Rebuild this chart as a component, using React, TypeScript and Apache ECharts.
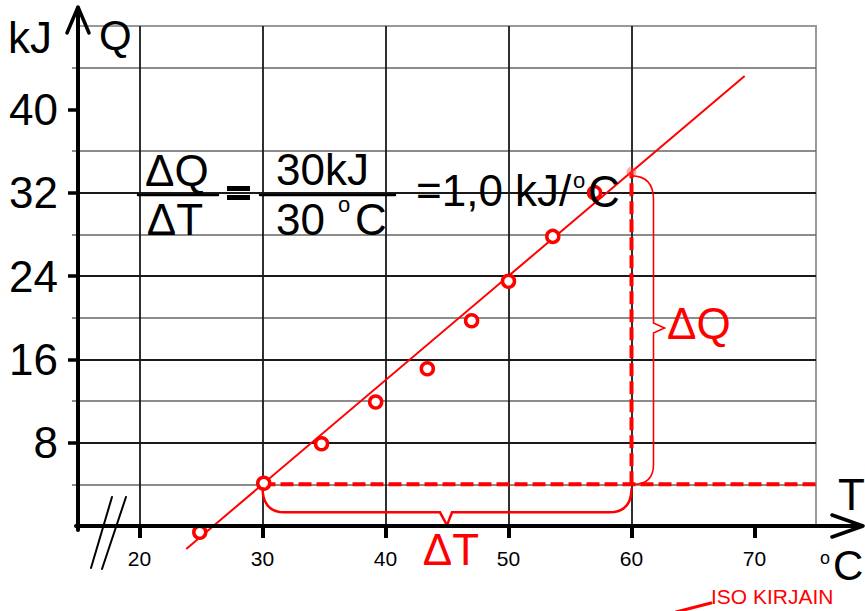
import React, { useEffect, useRef } from "react";
import * as echarts from "echarts";

// ---- data ----
const tValues = [24.9, 30.1, 34.8, 39.2, 43.4, 47.0, 50.0, 53.6, 57.0];
const qValues = [-0.6, 4.1, 7.9, 11.9, 15.1, 19.7, 23.5, 27.8, 32.0];
const fitT = [23.8, 69.2];
const fitQ = [-2.2, 43.2];
const deltaTLineT = [30, 75];
const deltaTLineQ = [4, 4];
const deltaQLineT = [60, 60];
const deltaQLineQ = [4, 34];
const peakPoint = [60, 34];
const xTickLabels = [20, 30, 40, 50, 60, 70];
const yTickLabels = [8, 16, 24, 32, 40];
const xMin = 15, xMax = 75, yMin = 0, yMax = 48;

const FONT = '"Liberation Sans", Arial, sans-serif';
const RED = "#ff0000";

const zip = (a: number[], b: number[]) => a.map((v, i) => [v, b[i]]);

export default function App() {
  const ref = useRef<HTMLDivElement>(null);
  useEffect(() => {
    if (!ref.current) return;
    const chart = echarts.init(ref.current, null, { renderer: "svg" });
    chart.setOption({
      animation: false,
      backgroundColor: "#fff",
      grid: {
        left: 78, right: 49, top: 26, bottom: 85,
        show: true, borderColor: "#999", borderWidth: 2,
      },
      xAxis: {
        type: "value", min: xMin, max: xMax, interval: 5,
        axisLine: { show: false },
        axisTick: {
          show: true, customValues: xTickLabels, length: 12,
          lineStyle: { color: "#000", width: 4 },
        },
        axisLabel: {
          customValues: xTickLabels, fontSize: 21, color: "#000",
          fontFamily: FONT, margin: 22,
        },
        splitLine: { show: true, showMaxLine: false, lineStyle: { color: "#1a1a1a", width: 1.8 } },
      },
      yAxis: {
        type: "value", min: yMin, max: yMax, interval: 8,
        axisLine: { show: false },
        axisTick: {
          show: true, customValues: yTickLabels, length: 10,
          lineStyle: { color: "#000", width: 3.5 },
        },
        minorTick: { show: true, splitNumber: 2, length: 6, lineStyle: { color: "#666", width: 1.5 } },
        axisLabel: {
          customValues: yTickLabels, fontSize: 44, color: "#000",
          fontFamily: FONT, margin: 20,
        },
        splitLine: { show: true, showMaxLine: false, lineStyle: { color: "#1a1a1a", width: 1.8 } },
        minorSplitLine: { show: true, lineStyle: { color: "#666", width: 1.6 } },
      },
      series: [
        {
          type: "line", data: zip(fitT, fitQ), showSymbol: false, symbol: "none",
          lineStyle: { color: RED, width: 2 }, clip: false, z: 3, silent: true,
        },
        {
          type: "line", data: zip(deltaTLineT, deltaTLineQ), symbol: "none",
          lineStyle: { color: RED, width: 4, type: [13, 5] }, clip: false, z: 2,
        },
        {
          type: "line", data: zip(deltaQLineT, deltaQLineQ), symbol: "none",
          lineStyle: { color: RED, width: 4, type: [13, 5] }, clip: false, z: 2,
        },
        {
          type: "scatter", data: zip(tValues, qValues), symbol: "circle", symbolSize: 12,
          itemStyle: { color: "#fff", borderColor: RED, borderWidth: 3.5, opacity: 1 },
          clip: false, z: 4,
        },
        {
          type: "scatter", data: [peakPoint], symbol: "circle", symbolSize: 10,
          itemStyle: { color: "rgba(255,60,60,0.55)" }, clip: false, z: 4,
        },
      ],
    });

    const P = (t: number, q: number) =>
      chart.convertToPixel({ seriesIndex: 0 }, [t, q]) as number[];

    const [ax, ay] = P(xMin, yMin);
    const [x0, y0] = P(deltaTLineT[0], deltaTLineQ[0]);
    const [x1] = P(deltaQLineT[0], deltaTLineQ[0]);
    const yb = y0 + 28;
    const xm = (x0 + x1) / 2;
    const dT = `M${x0},${y0 + 3} Q${x0},${yb} ${x0 + 22},${yb} L${xm - 7},${yb} L${xm},${yb + 13} L${xm + 5},${yb} L${x1 - 22},${yb} Q${x1},${yb} ${x1},${y0 + 4}`;
    const [tx, ty] = P(deltaQLineT[1], deltaQLineQ[1]);
    const [bxp, byp] = P(deltaQLineT[0], deltaQLineQ[0]);
    const bx = tx + 22;
    const ym = (ty + byp) / 2;
    const dQ = `M${tx},${ty + 4} Q${bx},${ty + 4} ${bx},${ty + 28} L${bx},${ym - 5} L${bx + 11},${ym} L${bx},${ym + 5} L${bx},${byp - 20} Q${bx},${byp} ${bxp + 2},${byp}`;
    echarts.graphic.registerShape("braceT", echarts.graphic.extendPath(dT, {}));
    echarts.graphic.registerShape("braceQ", echarts.graphic.extendPath(dQ, {}));

    const txt = (text: string, x: number, y: number, size: number, opts: any = {}) => ({
      type: "text", x, y, z: 10,
      style: {
        text, fill: opts.fill || "#000", font: `${size}px ${FONT}`,
        textAlign: opts.align || "left", textVerticalAlign: "middle",
      },
    });
    const ln = (pts: number[][], w: number, color = "#000") => ({
      type: "polyline", z: 10, shape: { points: pts },
      style: { stroke: color, lineWidth: w, fill: null, lineCap: "round", lineJoin: "round" },
    });

    chart.setOption({
      graphic: [
        // axes with open arrowheads
        ln([[ax, ay + 4], [ax, 8]], 4),
        ln([[ax - 11, 33], [ax, 7], [ax + 11, 33]], 3.5),
        ln([[ax - 2, ay], [861, ay]], 4),
        ln([[832, ay - 11], [863, ay], [832, ay + 11]], 3.5),
        // axis break
        ln([[112, 497], [91, 568]], 2),
        ln([[126, 497], [102, 569]], 2),
        // axis titles
        txt("kJ", 8, 37, 44),
        txt("Q", 99, 35, 42),
        txt("T", 838, 494, 44),
        txt("o", 820, 558, 18),
        txt("C", 833, 565, 42),
        // formula
        txt("ΔQ", 145, 170, 44),
        ln([[138, 195], [218, 195]], 2.5),
        txt("ΔT", 175, 219, 44, { align: "center" }),
        { type: "rect", z: 10, shape: { x: 227, y: 186, width: 23, height: 5 }, style: { fill: "#000" } },
        { type: "rect", z: 10, shape: { x: 227, y: 195, width: 23, height: 5 }, style: { fill: "#000" } },
        txt("30kJ", 276, 169, 44),
        ln([[260, 195], [395, 195]], 2.5),
        txt("30", 276, 219, 44),
        txt("o", 338, 204, 22),
        txt("C", 355, 219, 44),
        txt("=1,0 kJ/", 416, 190, 44),
        txt("o", 573, 180, 22),
        txt("C", 588, 191, 44),
        // braces and labels
        { type: "braceT", z: 9, style: { stroke: RED, fill: "none", lineWidth: 2.5 } },
        { type: "braceQ", z: 9, style: { stroke: RED, fill: "none", lineWidth: 1.6 } },
        txt("ΔT", 451, 549, 44, { fill: RED, align: "center" }),
        txt("ΔQ", 667, 323, 44, { fill: RED }),
        txt("ISO KIRJAIN", 711, 596, 21, { fill: RED }),
        ln([[676, 612], [711, 603]], 3, RED),
      ],
    });

    return () => chart.dispose();
  }, []);
  return (
    <div
      ref={ref}
      style={{ position: "fixed", left: 0, top: 0, width: 865, height: 611, background: "#fff" }}
    />
  );
}
